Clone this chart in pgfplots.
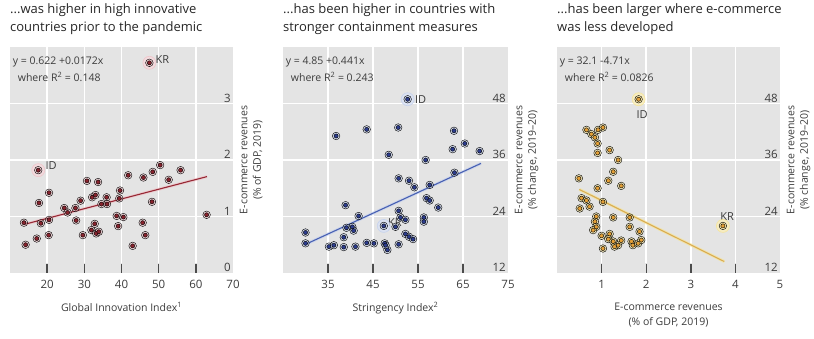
\documentclass[border=0pt]{standalone}
\usepackage{pgfplots}
\usepackage{pgfplotstable}
\pgfplotsset{compat=1.18}
\usepackage{fontspec}
\setmainfont{Open Sans}
\definecolor{bgc}{RGB}{228,228,228}
\definecolor{txt}{RGB}{60,60,60}
\definecolor{redd}{RGB}{135,35,45}
\definecolor{redh}{RGB}{240,192,198}
\definecolor{redl}{RGB}{150,40,52}
\definecolor{blued}{RGB}{44,60,140}
\definecolor{blueh}{RGB}{192,206,238}
\definecolor{bluel}{RGB}{72,96,178}
\definecolor{yeld}{RGB}{228,160,55}
\definecolor{yelh}{RGB}{248,228,140}
\definecolor{yell}{RGB}{218,172,82}

\pgfplotstableread{
x y
13.75 0.89
14.2 0.50
17.2 0.61
17.8 1.24
18.3 0.88
20.4 0.67
20.5 1.42
20.5 0.94
24.6 1.15
25.5 1.07
27.6 1.15
27.8 0.93
29.0 1.28
29.6 0.67
30.7 1.63
32.1 1.34
33.0 1.38
33.7 1.61
31.9 0.76
32.8 0.87
33.2 0.70
33.9 0.73
34.6 1.22
36.0 1.34
36.1 1.22
38.7 1.01
39.1 0.83
39.4 1.32
39.6 1.46
40.5 0.99
41.8 1.73
43.0 0.48
45.9 1.69
45.7 0.89
46.4 0.67
48.2 1.26
48.4 1.79
50.4 1.91
52.7 1.65
55.9 1.82
62.9 1.03
17.6 1.82
47.5 3.72
}\dataA

\pgfplotstableread{
x y
52.7 48.9
36.8 41.1
43.6 42.5
50.6 42.9
63.0 42.2
65.4 39.5
62.7 38.3
68.7 37.9
48.5 37.1
56.7 36.0
63.1 33.3
50.7 32.1
53.0 31.6
54.2 30.2
57.6 30.7
56.9 27.9
57.6 27.4
59.5 25.9
38.9 26.4
41.8 24.1
50.7 25.2
51.1 23.8
52.2 23.3
56.3 23.8
56.3 22.9
47.4 22.0
40.4 21.8
39.1 21.6
40.7 21.0
38.5 19.6
30.0 20.6
30.0 18.3
35.2 17.6
36.3 17.9
38.5 17.5
41.1 17.6
43.6 18.4
45.2 18.3
47.6 18.3
48.2 16.9
50.7 18.1
52.2 20.3
53.0 19.7
53.9 19.2
50.0 21.8
47.8 17.9
}\dataB

\pgfplotstableread{
x y
1.83 48.9
0.66 42.4
0.77 41.5
0.92 42.4
1.03 42.9
0.85 40.8
0.91 39.5
1.18 38.1
0.91 37.5
1.37 36.0
1.26 33.5
0.49 32.1
1.15 31.6
1.44 30.5
0.91 30.0
0.55 27.9
0.66 27.4
0.73 26.1
0.51 25.7
1.03 27.1
1.26 23.8
0.88 24.0
0.85 22.9
0.88 21.8
0.81 21.1
1.63 23.8
1.63 21.8
1.85 20.8
1.00 19.9
1.18 20.3
1.26 18.7
1.37 17.9
1.03 17.2
1.44 18.9
1.67 18.7
1.70 17.9
1.82 18.3
1.29 17.6
1.15 19.2
1.89 19.0
3.72 22.0
}\dataC

\pgfplotsset{
  panel/.style={
    scale only axis, height=226pt, anchor=south west,
    axis background/.style={fill=bgc},
    axis line style={draw=none},
    grid=none,
    xtick pos=left, ytick pos=right,
    major tick length=0pt,
    yticklabel pos=right,
    yticklabel style={anchor=south east, xshift=-1pt, inner sep=1pt, font=\fontsize{11.5}{12}\selectfont, text=txt},
    xticklabel style={yshift=-4pt, font=\fontsize{11.5}{12}\selectfont, text=txt},
    /pgf/number format/assume math mode=true,
    title style={at={(rel axis cs:0,1)}, anchor=south west, align=left, inner sep=0pt, yshift=6pt,
      font=\fontsize{13}{18}\selectfont, text=black!85},
    every axis x label/.style={at={(axis description cs:0.5,0)}, anchor=north, yshift=-26pt, align=center,
      font=\fontsize{10.5}{15.5}\selectfont, text=txt},
    every axis y label/.style={at={(axis description cs:1.015,0.5)}, rotate=90, anchor=north, align=center,
      font=\fontsize{10.5}{13.5}\selectfont, text=txt},
    clip=false,
  },
  gridl/.style={white, line width=1.5pt, forget plot},
  tickl/.style={black!70, line width=1.4pt, forget plot},
  halo/.style={only marks, mark=*, mark size=3.8pt, mark options={fill=#1, draw=none, fill opacity=0.5}},
  dot/.style={only marks, mark=*, mark size=2.1pt, mark options={fill=#1, draw=none}},
  ring/.style={only marks, mark=*, mark size=6.5pt, mark options={fill=#1!60, draw=#1!100!black, line width=0.6pt, opacity=0.8}},
}

\begin{document}
\begin{tikzpicture}
\useasboundingbox (0,0) rectangle (814pt,339pt);

% Panel 1
\begin{axis}[panel, at={(10pt,66pt)}, width=223pt,
  xmin=10, xmax=70, ymin=0, ymax=4,
  xtick={20,30,40,50,60,70}, ytick={0,1,2,3},
  title={...was higher in high innovative\\countries prior to the pandemic},
  xlabel={Global Innovation Index\textsuperscript{1}},
  ylabel={E-commerce revenues\\(\% of GDP, 2019)}]
\addplot[gridl] coordinates {(10,1) (70,1)};
\addplot[gridl] coordinates {(10,2) (70,2)};
\addplot[gridl] coordinates {(10,3) (70,3)};
\addplot[gridl] coordinates {(20,0.18) (20,4)};
\addplot[gridl] coordinates {(30,0.18) (30,4)};
\addplot[gridl] coordinates {(40,0.18) (40,4)};
\addplot[gridl] coordinates {(50,0.18) (50,4)};
\addplot[gridl] coordinates {(60,0.18) (60,4)};
\addplot[tickl] coordinates {(20,0) (20,0.16)};
\addplot[tickl] coordinates {(30,0) (30,0.16)};
\addplot[tickl] coordinates {(40,0) (40,0.16)};
\addplot[tickl] coordinates {(50,0) (50,0.16)};
\addplot[tickl] coordinates {(60,0) (60,0.16)};
\addplot[ring=redh] coordinates {(17.6,1.82) (47.5,3.72)};
\addplot[halo=redh] table {\dataA};
\addplot[dot=redd] table {\dataA};
\addplot[redh, line width=3pt, opacity=0.6] coordinates {(14,0.863) (63,1.706)};
\addplot[redl, line width=1.1pt] coordinates {(14,0.863) (63,1.706)};
\node[anchor=west, font=\fontsize{11}{12}\selectfont, text=txt, inner sep=0pt] at (axis cs:19.5,1.91) {ID};
\node[anchor=west, font=\fontsize{11}{12}\selectfont, text=txt, inner sep=0pt] at (axis cs:49.1,3.77) {KR};
\node[anchor=north west, align=left, font=\fontsize{10.5}{16.5}\selectfont, text=txt, inner sep=0pt]
  at (rel axis cs:0.012,0.955) {y = 0.622 +0.0172x\\\hspace*{5pt}where R\textsuperscript{2} = 0.148};
\end{axis}

% Panel 2
\begin{axis}[panel, at={(283pt,66pt)}, width=225pt,
  xmin=25, xmax=75, ymin=12, ymax=60,
  xtick={35,45,55,65,75}, ytick={12,24,36,48},
  title={...has been higher in countries with\\stronger containment measures},
  xlabel={Stringency Index\textsuperscript{2}},
  ylabel={E-commerce revenues\\(\% change, 2019--20)}]
\addplot[gridl] coordinates {(25,24) (75,24)};
\addplot[gridl] coordinates {(25,36) (75,36)};
\addplot[gridl] coordinates {(25,48) (75,48)};
\addplot[gridl] coordinates {(35,14.1) (35,60)};
\addplot[gridl] coordinates {(45,14.1) (45,60)};
\addplot[gridl] coordinates {(55,14.1) (55,60)};
\addplot[gridl] coordinates {(65,14.1) (65,60)};
\addplot[tickl] coordinates {(35,12) (35,13.9)};
\addplot[tickl] coordinates {(45,12) (45,13.9)};
\addplot[tickl] coordinates {(55,12) (55,13.9)};
\addplot[tickl] coordinates {(65,12) (65,13.9)};
\addplot[ring=blueh] coordinates {(52.7,48.9) (47.4,22.0)};
\addplot[halo=blueh] table {\dataB};
\addplot[dot=blued] table {\dataB};
\addplot[blueh, line width=3pt, opacity=0.6] coordinates {(30,18.08) (69,35.28)};
\addplot[bluel, line width=1.1pt] coordinates {(30,18.08) (69,35.28)};
\node[anchor=west, font=\fontsize{11}{12}\selectfont, text=txt, inner sep=0pt] at (axis cs:54.3,48.9) {ID};
\node[anchor=west, font=\fontsize{11}{12}\selectfont, text=txt, inner sep=0pt] at (axis cs:48.3,22.8) {KR};
\node[anchor=north west, align=left, font=\fontsize{10.5}{16.5}\selectfont, text=txt, inner sep=0pt]
  at (rel axis cs:0.012,0.955) {y = 4.85 +0.441x\\\hspace*{5pt}where R\textsuperscript{2} = 0.243};
\end{axis}

% Panel 3
\begin{axis}[panel, at={(557pt,66pt)}, width=223pt,
  xmin=0, xmax=5, ymin=12, ymax=60,
  xtick={1,2,3,4,5}, ytick={12,24,36,48},
  title={...has been larger where e-commerce\\was less developed},
  xlabel={E-commerce revenues\\(\% of GDP, 2019)},
  ylabel={E-commerce revenues\\(\% change, 2019--20)}]
\addplot[gridl] coordinates {(0,24) (5,24)};
\addplot[gridl] coordinates {(0,36) (5,36)};
\addplot[gridl] coordinates {(0,48) (5,48)};
\addplot[gridl] coordinates {(1,14.1) (1,60)};
\addplot[gridl] coordinates {(2,14.1) (2,60)};
\addplot[gridl] coordinates {(3,14.1) (3,60)};
\addplot[gridl] coordinates {(4,14.1) (4,60)};
\addplot[tickl] coordinates {(1,12) (1,13.9)};
\addplot[tickl] coordinates {(2,12) (2,13.9)};
\addplot[tickl] coordinates {(3,12) (3,13.9)};
\addplot[tickl] coordinates {(4,12) (4,13.9)};
\addplot[ring=yelh] coordinates {(1.83,48.9) (3.72,22.0)};
\addplot[halo=yelh] table {\dataC};
\addplot[dot=yeld] table {\dataC};
\addplot[yelh, line width=3pt, opacity=0.6] coordinates {(0.5,29.75) (3.75,14.44)};
\addplot[yell, line width=1.1pt] coordinates {(0.5,29.75) (3.75,14.44)};
\node[anchor=west, font=\fontsize{11}{12}\selectfont, text=txt, inner sep=0pt] at (axis cs:1.78,45.6) {ID};
\node[anchor=west, font=\fontsize{11}{12}\selectfont, text=txt, inner sep=0pt] at (axis cs:3.66,24.0) {KR};
\node[anchor=north west, align=left, font=\fontsize{10.5}{16.5}\selectfont, text=txt, inner sep=0pt]
  at (rel axis cs:0.012,0.955) {y = 32.1 -4.71x\\\hspace*{5pt}where R\textsuperscript{2} = 0.0826};
\end{axis}
\end{tikzpicture}
\end{document}
